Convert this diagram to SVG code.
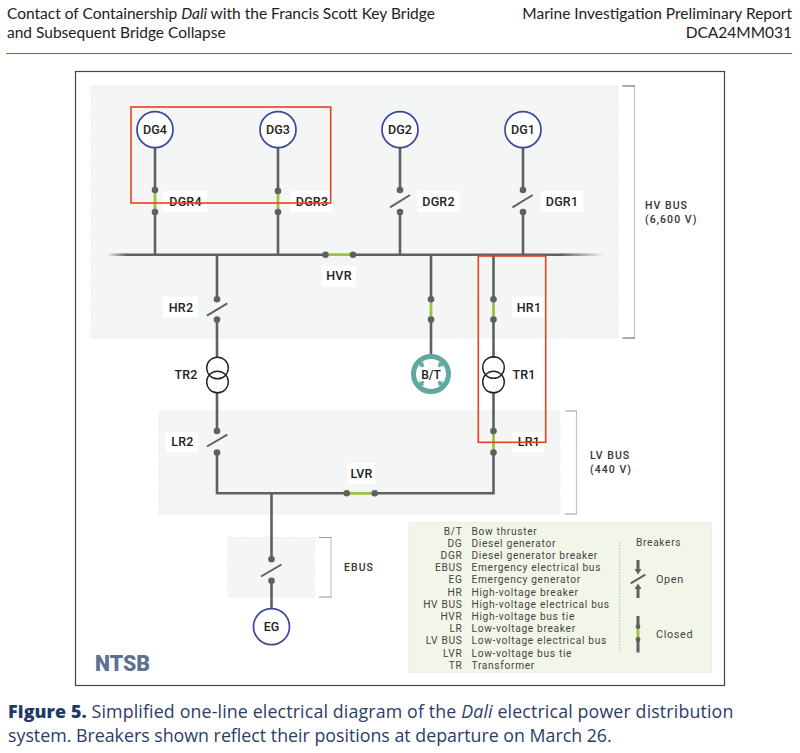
<svg xmlns="http://www.w3.org/2000/svg" width="800" height="753" viewBox="0 0 800 753">
<style>
text{font-family:Roboto,"Liberation Sans",sans-serif;fill:#222}
.hd{font-family:Lato,"Noto Sans",sans-serif;font-size:15.5px;fill:#222}
.cap{font-family:"Open Sans","Noto Sans",sans-serif;font-size:17.8px;fill:#2b3d66}
.lb{font-size:12.5px;font-weight:500;text-anchor:middle;letter-spacing:.2px}
.nd{font-size:12.5px;font-weight:500;text-anchor:middle;fill:#222}
.side{font-size:10.5px;font-weight:500;letter-spacing:1.05px;fill:#333}
.lg{font-size:10.2px;letter-spacing:.68px;fill:#444}
.lga{text-anchor:end}
.panel{fill:#f4f6f6;stroke:#dde0e0;stroke-width:.7;stroke-dasharray:1.5 1.5}
.w{fill:#fff}
.wire{fill:none;stroke:#5f6060;stroke-width:2.6}
.closed{fill:none;stroke:#9ac43f;stroke-width:2.8}
.blade{stroke:#5f6060;stroke-width:2;fill:none}
.dot{fill:#5f6060}
.red{fill:none;stroke:#e8401f;stroke-width:1.6}
.br{fill:none;stroke:#c4c6c6;stroke-width:1.2}
.gen{fill:#fff;stroke:#3b479b;stroke-width:1.7}
.tr{fill:none;stroke:#222;stroke-width:1.4}
</style>
<defs>
<linearGradient id="fadeL" x1="0" x2="1" y1="0" y2="0"><stop offset="0" stop-color="#5f6060" stop-opacity="0"/><stop offset="1" stop-color="#5f6060"/></linearGradient>
<linearGradient id="fadeR" x1="0" x2="1" y1="0" y2="0"><stop offset="0" stop-color="#5f6060"/><stop offset="1" stop-color="#5f6060" stop-opacity="0"/></linearGradient>
</defs>
<rect width="800" height="753" fill="#fff"/>
<g id="header">
<text class="hd" x="7" y="19">Contact of Containership <tspan font-style="italic">Dali</tspan> with the Francis Scott Key Bridge</text>
<text class="hd" x="7" y="38">and Subsequent Bridge Collapse</text>
<text class="hd" x="792" y="19" text-anchor="end">Marine Investigation Preliminary Report</text>
<text class="hd" x="792" y="38" text-anchor="end">DCA24MM031</text>
<line x1="6" y1="53.500" x2="792" y2="53.500" stroke="#5468a8" stroke-width="1.200"/>
</g>
<rect id="frame" x="75.500" y="71.500" width="649" height="614" fill="#fff" stroke="#444" stroke-width="1.200"/>
<g id="panels">
<rect class="panel" x="91" y="86" width="527" height="252"/>
<rect class="panel" x="159" y="411" width="401" height="103"/>
<rect class="panel" x="228" y="537.500" width="86.500" height="59.500"/>
<path class="br" d="M634.500 86V338M576.500 411V514M331 537.500V597"/>
<path fill="none" stroke="#555" stroke-width="1" d="M622.500 86H635M622.500 338H635"/>
<path fill="none" stroke="#999" stroke-width="1" d="M565 411H577M565 514H577M319 537.500H331.500M319 597H331.500"/>
</g>
<g id="connectors">
<rect x="107" y="253.400" width="20" height="2.600" fill="url(#fadeL)"/>
<rect x="560" y="253.400" width="44" height="2.600" fill="url(#fadeR)"/>
<path class="wire" d="M127 254.700H325M353 254.700H560"/>
<path class="wire" d="M155 147V190M155 212V254.700M278 147V190M278 212V254.700M400 147V190M400 212V254.700M523 147V190M523 212V254.700"/>
<path class="wire" d="M217 254.700V299M217 319.500V358M217 392V431M217 452V493.300H346.500M374.500 493.300H493.500V452M493.500 431V392M493.500 358V319.500M493.500 299V254.700M431 254.700V299M431 319.500V355M271.500 493.300V559M271.500 581V609"/>
<path class="closed" d="M155 190V212M278 190V212M326 254.700H353M431 299V319.500M493.500 299V319.500M493.500 431V452M347 493.300H375"/>
<path class="blade" d="M390 207.300L410 195M512.500 207.300L532.700 195M207 315.700L227.300 303.300M207 446.500L227.300 434.700M261 576.500L281.500 564.500"/>
<g class="dot">
<circle cx="155" cy="190" r="3.300"/><circle cx="155" cy="212" r="3.300"/>
<circle cx="278" cy="191" r="3.300"/><circle cx="278" cy="212" r="3.300"/>
<circle cx="400" cy="190" r="3.300"/><circle cx="400" cy="212" r="3.300"/>
<circle cx="523" cy="190" r="3.300"/><circle cx="523" cy="212" r="3.300"/>
<circle cx="325.500" cy="254.700" r="3.300"/><circle cx="353" cy="254.700" r="3.300"/>
<circle cx="217" cy="299.300" r="3.300"/><circle cx="217" cy="319.500" r="3.300"/>
<circle cx="431" cy="299.300" r="3.300"/><circle cx="431" cy="319.500" r="3.300"/>
<circle cx="493.500" cy="299.300" r="3.300"/><circle cx="493.500" cy="319.500" r="3.300"/>
<circle cx="217" cy="431" r="3.300"/><circle cx="217" cy="452.500" r="3.300"/>
<circle cx="493.500" cy="431" r="3.300"/><circle cx="493.500" cy="452.500" r="3.300"/>
<circle cx="346.700" cy="493.300" r="3.300"/><circle cx="374.700" cy="493.300" r="3.300"/>
<circle cx="271.500" cy="559.300" r="3.300"/><circle cx="271.500" cy="580.700" r="3.300"/>
</g>
</g>
<g id="DG4"><circle class="gen" cx="155" cy="129.700" r="18"/><text class="nd" x="155" y="134">DG4</text></g>
<g id="DG3"><circle class="gen" cx="278" cy="129.700" r="18"/><text class="nd" x="278" y="134">DG3</text></g>
<g id="DG2"><circle class="gen" cx="400" cy="129.700" r="18"/><text class="nd" x="400" y="134">DG2</text></g>
<g id="DG1"><circle class="gen" cx="523" cy="129.700" r="18"/><text class="nd" x="523" y="134">DG1</text></g>
<g id="EG"><circle class="gen" cx="271.500" cy="626.700" r="18"/><text class="nd" x="271.500" y="631">EG</text></g>
<g id="TR2"><circle class="tr" cx="217.500" cy="368" r="10.800"/><circle class="tr" cx="217.500" cy="382" r="10.800"/><text class="lb" x="186" y="379">TR2</text></g>
<g id="TR1"><circle class="tr" cx="493.500" cy="367.500" r="10.800"/><circle class="tr" cx="493.500" cy="382" r="10.800"/><text class="lb" x="524" y="379">TR1</text></g>
<g id="BT">
<circle cx="431" cy="374" r="17.500" fill="#fff" stroke="#5fa9a0" stroke-width="5"/>
<path fill="#5fa9a0" d="M419.500 362.500h5l-1.500 1.500 1.500 1.500-2 2-1.500-1.500-1.500 1.500zM442.500 362.500v5l-1.500-1.500-1.500 1.500-2-2 1.500-1.500-1.500-1.500zM419.500 385.500v-5l1.500 1.500 1.500-1.500 2 2-1.500 1.500 1.500 1.500zM442.500 385.500h-5l1.500-1.500-1.500-1.500 2-2 1.500 1.500 1.500-1.500z"/>
<text class="nd" x="431" y="378.500" style="font-size:12px">B/T</text>
</g>
<g id="labels">
<rect class="w" x="163" y="191" width="44" height="21"/><text class="lb" x="185.500" y="205.500">DGR4</text>
<rect class="w" x="290.500" y="191" width="42" height="21"/><text class="lb" x="312" y="205.500">DGR3</text>
<rect class="w" x="417.500" y="191" width="42" height="21"/><text class="lb" x="438.500" y="205.500">DGR2</text>
<rect class="w" x="541" y="191" width="42" height="21"/><text class="lb" x="562" y="205.500">DGR1</text>
<rect class="w" x="322" y="265.700" width="34" height="21"/><text class="lb" x="339" y="280">HVR</text>
<rect class="w" x="163" y="296.700" width="35" height="21"/><text class="lb" x="181" y="311.500">HR2</text>
<rect class="w" x="512" y="296.700" width="33" height="21"/><text class="lb" x="529" y="311.500">HR1</text>
<rect class="w" x="166" y="431.700" width="32" height="21"/><text class="lb" x="182.500" y="446">LR2</text>
<rect class="w" x="512" y="431.700" width="32" height="21"/><text class="lb" x="529" y="446">LR1</text>
<rect class="w" x="347.500" y="463" width="27.500" height="21"/><text class="lb" x="361.500" y="477.500">LVR</text>
<text class="side" x="645" y="208.500">HV BUS</text><text class="side" x="645" y="222.500">(6,600 V)</text>
<text class="side" x="590" y="459">LV BUS</text><text class="side" x="590" y="472.500">(440 V)</text>
<text class="side" x="344" y="571">EBUS</text>
</g>
<g id="highlights">
<rect class="red" x="131" y="107" width="199.700" height="96"/>
<rect class="red" x="478.300" y="256" width="67.400" height="186.300"/>
</g>
<g id="legend">
<rect x="409" y="522.300" width="302.700" height="150.400" fill="#f2f6e8" stroke="#e6ebda" stroke-width=".6"/>
<g class="lg">
<text class="lg lga" x="462.500" y="534.500">B/T</text><text class="lg" x="471.500" y="534.500">Bow thruster</text>
<text class="lg lga" x="462.500" y="546.700">DG</text><text class="lg" x="471.500" y="546.700">Diesel generator</text>
<text class="lg lga" x="462.500" y="558.900">DGR</text><text class="lg" x="471.500" y="558.900">Diesel generator breaker</text>
<text class="lg lga" x="462.500" y="571.100">EBUS</text><text class="lg" x="471.500" y="571.100">Emergency electrical bus</text>
<text class="lg lga" x="462.500" y="583.300">EG</text><text class="lg" x="471.500" y="583.300">Emergency generator</text>
<text class="lg lga" x="462.500" y="595.500">HR</text><text class="lg" x="471.500" y="595.500">High-voltage breaker</text>
<text class="lg lga" x="462.500" y="607.700">HV BUS</text><text class="lg" x="471.500" y="607.700">High-voltage electrical bus</text>
<text class="lg lga" x="462.500" y="619.900">HVR</text><text class="lg" x="471.500" y="619.900">High-voltage bus tie</text>
<text class="lg lga" x="462.500" y="632.100">LR</text><text class="lg" x="471.500" y="632.100">Low-voltage breaker</text>
<text class="lg lga" x="462.500" y="644.300">LV BUS</text><text class="lg" x="471.500" y="644.300">Low-voltage electrical bus</text>
<text class="lg lga" x="462.500" y="656.500">LVR</text><text class="lg" x="471.500" y="656.500">Low-voltage bus tie</text>
<text class="lg lga" x="462.500" y="668.700">TR</text><text class="lg" x="471.500" y="668.700">Transformer</text>
</g>
<line x1="619.700" y1="542" x2="619.700" y2="652" stroke="#b5b8ae" stroke-width="1" stroke-dasharray="1.500 1.500"/>
<text class="lg" x="636" y="545.500">Breakers</text>
<text class="lg" x="656" y="582.500" style="font-size:10.800px">Open</text>
<text class="lg" x="656" y="637.500" style="font-size:10.800px">Closed</text>
<path d="M638 560V570M638 598V589" fill="none" stroke="#5f6060" stroke-width="3"/>
<path d="M630.700 583.300L645.300 574.700" fill="none" stroke="#5f6060" stroke-width="2"/>
<path fill="#5f6060" d="M634.500 569h7l-3.500 5.500zM634.500 589h7l-3.500-5.500z"/>
<path d="M638 616V627M638 640V652.500" fill="none" stroke="#5f6060" stroke-width="3"/>
<path class="closed" d="M638 627V640"/>
<circle class="dot" cx="638" cy="626.700" r="2.400"/><circle class="dot" cx="638" cy="639.500" r="2.400"/>
</g>
<text id="ntsb" x="95" y="671" font-size="22" font-weight="900" style="font-family:Roboto,sans-serif;fill:#5d7190" textLength="55" lengthAdjust="spacingAndGlyphs">NTSB</text>
<g id="caption">
<text class="cap" x="8" y="718" letter-spacing=".14"><tspan font-weight="800" fill="#1f3a68">Figure 5.</tspan> Simplified one-line electrical diagram of the <tspan font-style="italic">Dali</tspan> electrical power distribution</text>
<text class="cap" x="8" y="741.500">system. Breakers shown reflect their positions at departure on March 26.</text>
</g>
</svg>
